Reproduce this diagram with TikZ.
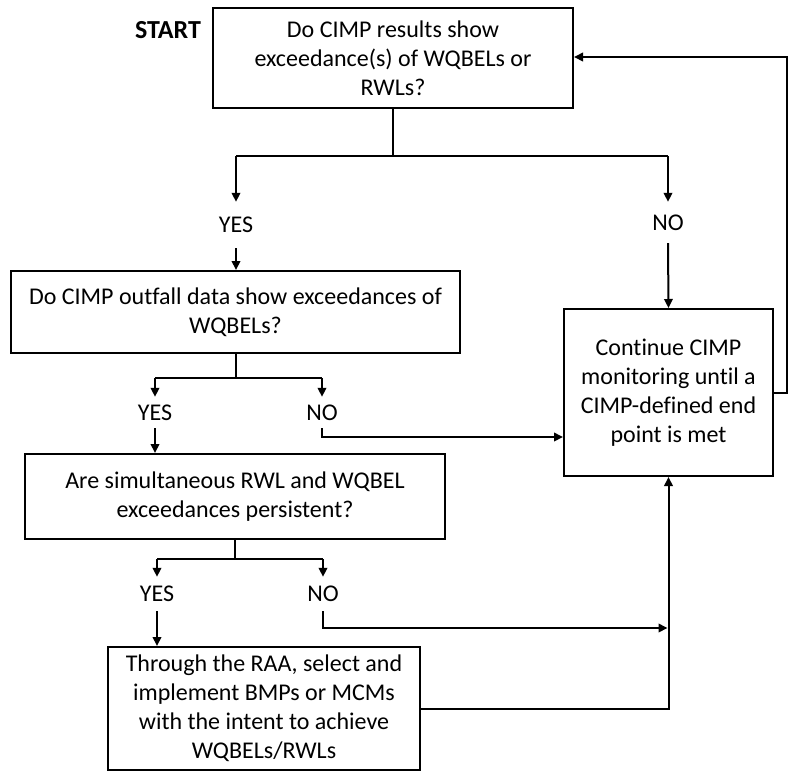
\documentclass[tikz,border=0pt]{standalone}
\usepackage{fontspec}
\setmainfont{Carlito}[Ligatures=NoCommon]
\usetikzlibrary{arrows.meta}
\begin{document}
\begin{tikzpicture}[x=1pt,y=-1pt,
  box/.style={draw, line width=2pt, inner sep=0pt, align=center, font=\fontsize{24}{29}\selectfont},
  lbl/.style={inner sep=0pt, minimum width=10pt, font=\fontsize{24}{29}\selectfont},
  conn/.style={line width=2pt},
  arr/.style={conn, -{Triangle[length=9pt,width=8.5pt]}}]
\useasboundingbox (0,0) rectangle (788,772);

% boxes
\node[box, minimum width=360pt, minimum height=100pt] (q1) at (393,58)
  {Do CIMP results show\\exceedance(s) of WQBELs or\\RWLs?};
\node[box, minimum width=449pt, minimum height=82pt] (q2) at (235.5,312)
  {Do CIMP outfall data show exceedances of\\WQBELs?};
\node[box, minimum width=420pt, minimum height=85pt] (q3) at (235,496.5)
  {Are simultaneous RWL and WQBEL\\exceedances persistent?};
\node[box, minimum width=312pt, minimum height=123pt] (act) at (264,708.5)
  {Through the RAA, select and\\implement BMPs or MCMs\\with the intent to achieve\\WQBELs/RWLs};
\node[box, minimum width=209pt, minimum height=167pt] (cont) at (668.5,392.5)
  {Continue CIMP\\monitoring until a\\CIMP-defined end\\point is met};

% labels
\node[lbl, font=\fontsize{26}{30}\selectfont\bfseries] (start) at (168,30) {START};
\node[lbl, minimum height=46pt] (y1) at (236,225) {YES};
\node[lbl, minimum height=41pt] (n1) at (668,222.5) {NO};
\node[lbl, minimum height=31pt] (y2) at (155,412.5) {YES};
\node[lbl, minimum height=31pt] (n2) at (322,412.5) {NO};
\node[lbl, minimum height=34pt] (y3) at (157,594) {YES};
\node[lbl, minimum height=34pt] (n3) at (323,594) {NO};

% junction coordinates
\coordinate (b1l) at (236,156);
\coordinate (b1r) at (668,156);
\coordinate (b2l) at (155,378);
\coordinate (b2r) at (322,378);
\coordinate (b3l) at (157,559);
\coordinate (b3r) at (323,559);
\coordinate (k2) at (322,437);
\coordinate (k3) at (323,628);
\coordinate (rr) at (787,57);

% first decision
\draw[conn] (q1.south) -- (q1.south |- b1l);
\draw[conn] (b1l) -- (b1r);
\draw[arr] (b1l) -- (y1.north);
\draw[arr] (b1r) -- (n1.north);
\draw[arr] (y1.south) -- (y1.south |- q2.north);
\draw[arr] (n1.south) -- (cont.north);

% second decision
\draw[conn] (q2.south) -- (q2.south |- b2l);
\draw[conn] (b2l) -- (b2r);
\draw[arr] (b2l) -- (y2.north);
\draw[arr] (b2r) -- (n2.north);
\draw[arr] (y2.south) -- (y2.south |- q3.north);
\draw[arr] (n2.south) -- (k2) -- (k2 -| cont.west);

% third decision
\draw[conn] (q3.south) -- (q3.south |- b3l);
\draw[conn] (b3l) -- (b3r);
\draw[arr] (b3l) -- (y3.north);
\draw[arr] (b3r) -- (n3.north);
\draw[arr] (y3.south) -- (y3.south |- act.north);
\draw[arr] (n3.south) -- (k3) -- ([xshift=-1pt]k3 -| cont.south);

% action back to continue
\draw[arr] (act.east) -| (cont.south);

% loop back to start
\draw[arr] (cont.east) -| (rr) -- (rr -| q1.east);
\end{tikzpicture}
\end{document}
